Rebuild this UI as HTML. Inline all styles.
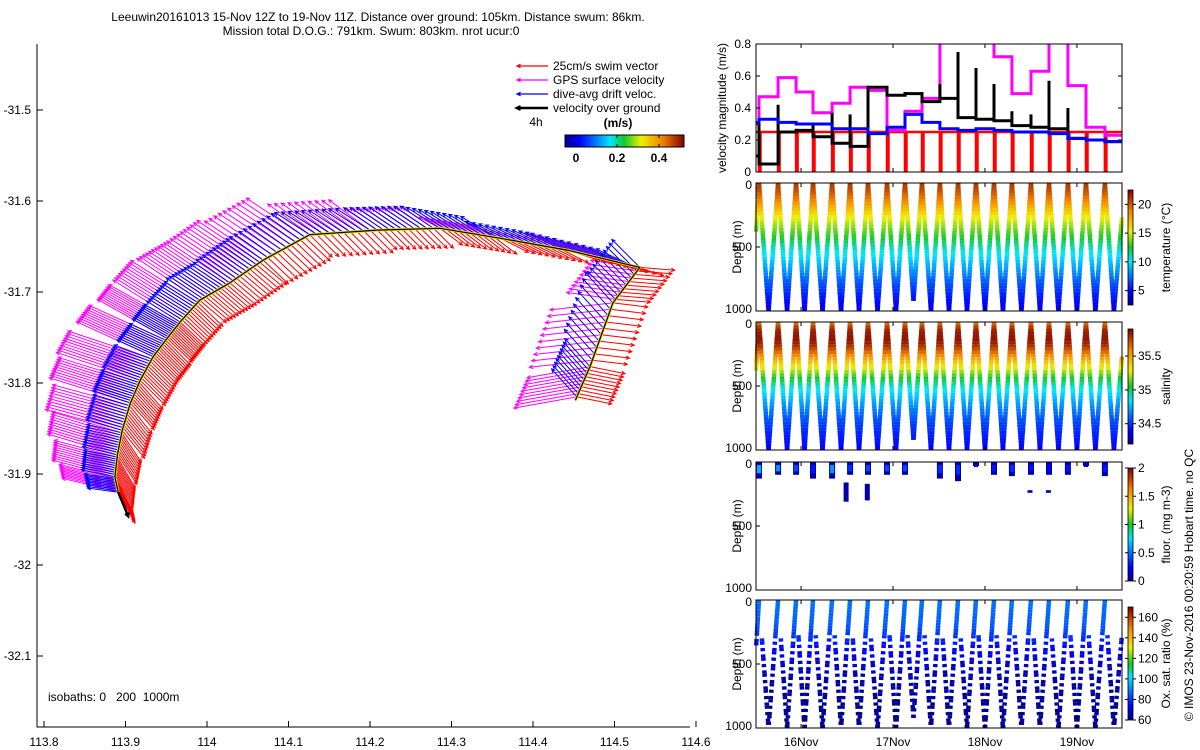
<!DOCTYPE html>
<html><head><meta charset="utf-8"><title>Leeuwin glider</title>
<style>
html,body{margin:0;padding:0;background:#fff;}
svg{display:block;font-family:"Liberation Sans",sans-serif;}
text{font-size:12px;fill:#000;}
</style></head>
<body>
<svg id="chart" width="1200" height="750" viewBox="0 0 1200 750" xmlns="http://www.w3.org/2000/svg">
<defs>
<linearGradient id="jetV" x1="0" y1="1" x2="0" y2="0"></linearGradient>
<linearGradient id="jetH" x1="0" y1="0" x2="1" y2="0"></linearGradient>
<clipPath id="velClip"><rect x="756" y="44" width="366" height="128"/></clipPath>
</defs>
<g>
<text x="378" y="21" text-anchor="middle">Leeuwin20161013 15-Nov 12Z to 19-Nov 11Z. Distance over ground: 105km. Distance swum: 86km.</text>
<text x="371" y="35" text-anchor="middle">Mission total D.O.G.: 791km. Swum: 803km. nrot ucur:0</text>
</g>
<g id="map"></g>
<g id="right"></g>
<text transform="translate(1193,585) rotate(-90)" text-anchor="middle">© IMOS 23-Nov-2016 00:20:59 Hobart time. no QC</text>
</svg>
<script>
// ---------- DATA ----------
const mapLonTicks = [113.8,113.9,114,114.1,114.2,114.3,114.4,114.5,114.6];
const mapLatTicks = [-31.5,-31.6,-31.7,-31.8,-31.9,-32,-32.1];
const trackLon = [113.891,113.887,113.890,113.896,113.906,113.918,113.934,113.951,113.967,113.991,114.028,114.069,114.126,114.209,114.286,114.360,114.442,114.531,114.498,114.470,114.452];
const trackLat = [-31.920,-31.903,-31.879,-31.852,-31.822,-31.797,-31.771,-31.751,-31.733,-31.709,-31.690,-31.665,-31.637,-31.632,-31.630,-31.641,-31.654,-31.673,-31.712,-31.782,-31.819];
const gpsE = [-0.40,-0.45,-0.50,-0.55,-0.58,-0.60,-0.55,-0.50,-0.48,-0.45,-0.45,-0.42,-0.30,-0.22,-0.15,-0.12,-0.30,-0.35,-0.45,-0.45];
const gpsN = [0.10,0.12,0.15,0.15,0.18,0.20,0.25,0.28,0.30,0.30,0.30,0.28,0.22,0.15,0.08,0.06,0.12,0.05,-0.05,-0.08];
const driftE = [-0.22,-0.24,-0.25,-0.26,-0.27,-0.27,-0.26,-0.25,-0.24,-0.24,-0.24,-0.24,-0.25,-0.24,-0.24,-0.25,-0.26,-0.20,-0.20,-0.18];
const driftN = [0.03,0.05,0.06,0.08,0.09,0.10,0.12,0.14,0.15,0.16,0.17,0.17,0.16,0.16,0.15,0.12,0.12,0.20,0.22,0.20];
const swimE = [0.12,0.13,0.14,0.16,0.17,0.18,0.18,0.18,0.18,0.19,0.19,0.18,0.16,0.14,0.16,0.20,0.22,0.25,0.25,0.25];
const swimN = [-0.22,-0.22,-0.21,-0.20,-0.19,-0.18,-0.18,-0.17,-0.17,-0.16,-0.16,-0.17,-0.16,-0.14,-0.12,-0.10,-0.07,-0.02,-0.03,-0.05];

const dayTicks = [16,17,18,19];
const dayLabels = ['16Nov','17Nov','18Nov','19Nov'];
const diveTopTimes = [15.543,15.75,15.946,16.13,16.337,16.533,16.728,16.935,17.13,17.315,17.51,17.707,17.902,18.098,18.293,18.5,18.696,18.902,19.098,19.304];
const diveMaxDepth = [1000,1000,1000,1000,1000,1000,1000,1000,920,1000,1000,1000,1000,1000,1000,1000,1000,1000,1000,1000];
const startDepth = 380, endDepth = 270;
const depthLv = [0,50,100,150,200,250,300,400,500,600,700,800,900,1000];
const tempLv = [21,20.5,19.5,18.5,17,15.8,14.7,13,11,9.5,8,6.5,5.3,4.5];
const salLv = [35.6,35.8,35.85,35.85,35.75,35.6,35.45,35.15,34.9,34.75,34.62,34.52,34.45,34.4];
const oxLv = [87,86.5,86,85,84,81,78,72,67,64,62,61,60.5,60];
const fluorDepth = [130,100,100,130,130,100,100,100,100,0,130,150,5,100,110,100,100,100,5,110];
const fluorPeak = [0.9,0.8,0.5,0.3,0.8,0.4,0.5,0.5,0.5,0,0.4,0.4,0.1,0.3,0.4,0.3,0.2,0.3,0.1,0.3];
const velTicks = [0,0.2,0.4,0.6,0.8];
const gpsSpeed = [0.30,0.47,0.59,0.50,0.37,0.43,0.53,0.51,0.26,0.38,0.46,0.85,0.85,0.85,0.72,0.49,0.63,0.85,0.54,0.28,0.23];
const driftSpeed = [0.31,0.33,0.31,0.30,0.30,0.27,0.27,0.24,0.28,0.36,0.31,0.27,0.26,0.27,0.26,0.25,0.25,0.24,0.21,0.20,0.19];
const ogSpeed = [0.10,0.05,0.25,0.26,0.22,0.18,0.16,0.53,0.48,0.49,0.44,0.46,0.34,0.33,0.32,0.29,0.28,0.27,0.21,0.20,0.19];
const ogSpike = [0.33,0.42,0.27,0.30,0.37,0.36,0.50,0.52,0.50,0.50,0.55,0.75,0.65,0.55,0.38,0.36,0.57,0.40,0.22,0.20];
const swimSpeed = 0.25;

// ---------- HELPERS ----------
const NS='http://www.w3.org/2000/svg';
const svg=document.getElementById('chart');
function mk(tag,attrs,parent){const e=document.createElementNS(NS,tag);for(const k in attrs)e.setAttribute(k,attrs[k]);(parent||svg).appendChild(e);return e;}
function txt(parent,x,y,s,anchor,extra){const t=mk('text',Object.assign({x:x,y:y,'text-anchor':anchor||'start'},extra||{}),parent);t.textContent=s;return t;}
function clamp(v){return Math.max(0,Math.min(1,v));}
const cmPos=[0,0.12,0.38,0.5,0.64,0.82,1];
const cmCol=[[0,0,143],[0,0,255],[0,230,255],[20,200,40],[240,240,0],[240,130,0],[128,0,0]];
function jet(v){v=clamp(v);let i=0;while(i<cmPos.length-2&&v>cmPos[i+1])i++;const f=(v-cmPos[i])/(cmPos[i+1]-cmPos[i]);const a=cmCol[i],b=cmCol[i+1];return 'rgb('+Math.round(a[0]+f*(b[0]-a[0]))+','+Math.round(a[1]+f*(b[1]-a[1]))+','+Math.round(a[2]+f*(b[2]-a[2]))+')';}
['jetV','jetH'].forEach(id=>{const g=document.getElementById(id);cmPos.forEach((p,i)=>{mk('stop',{offset:p,'stop-color':'rgb('+cmCol[i].join(',')+')'},g);});});
function interp(lv,d){for(let i=0;i<depthLv.length-1;i++){if(d<=depthLv[i+1]){const f=(d-depthLv[i])/(depthLv[i+1]-depthLv[i]);return lv[i]+f*(lv[i+1]-lv[i]);}}return lv[lv.length-1];}

// ---------- MAP ----------
const map=document.getElementById('map');
const lonX=lon=>207+(lon-114)*815;
const latY=lat=>110+(-31.5-lat)*910;
const VS=140;
const ax=mk('path',{d:'M37,44 V727 H690',fill:'none',stroke:'#000','stroke-width':1},map);


mapLonTicks.forEach(v=>{const x=lonX(v);mk('line',{x1:x,y1:727,x2:x,y2:721,stroke:'#000'},map);
 const t=txt(map,x,746,String(v),'middle');
 
 });
mapLatTicks.forEach(v=>{const y=latY(v);mk('line',{x1:37,y1:y,x2:43,y2:y,stroke:'#000'},map);
 const t=txt(map,31,y+4,String(v),'end');
 
 });
function arrow(g,x,y,dx,dy,color,w){
 const x2=x+dx,y2=y+dy;const a=Math.atan2(dy,dx);const L=4;
 mk('path',{d:'M'+x.toFixed(1)+','+y.toFixed(1)+'L'+x2.toFixed(1)+','+y2.toFixed(1)+
  'M'+(x2+L*Math.cos(a+Math.PI-0.45)).toFixed(1)+','+(y2+L*Math.sin(a+Math.PI-0.45)).toFixed(1)+'L'+x2.toFixed(1)+','+y2.toFixed(1)+
  'L'+(x2+L*Math.cos(a+Math.PI+0.45)).toFixed(1)+','+(y2+L*Math.sin(a+Math.PI+0.45)).toFixed(1),
  stroke:color,'stroke-width':w||1,fill:'none'},g);}
const gGps=mk('g',{},map);


const gDrift=mk('g',{},map);


const gSwim=mk('g',{},map);


for(let i=0;i<trackLon.length-1;i++){
 for(let k=0;k<10;k++){
  const f=k/10;
  const x=lonX(trackLon[i]+f*(trackLon[i+1]-trackLon[i]));
  const y=latY(trackLat[i]+f*(trackLat[i+1]-trackLat[i]));
  arrow(gGps,x,y,gpsE[i]*VS,-gpsN[i]*VS,'#ff00ff');
  arrow(gDrift,x,y,driftE[i]*VS,-driftN[i]*VS,'#0000ff');
  arrow(gSwim,x,y,swimE[i]*VS,-swimN[i]*VS,'#ff0000');
 }
}
let tp='';trackLon.forEach((v,i)=>{tp+=(i?'L':'M')+lonX(v).toFixed(1)+','+latY(trackLat[i]).toFixed(1);});
const trY=mk('path',{d:tp,fill:'none',stroke:'#e8e000','stroke-width':3},map);


const trB=mk('path',{d:tp,fill:'none',stroke:'#000','stroke-width':1.2},map);


const ogArrow=mk('g',{},map);


arrow(ogArrow,lonX(trackLon[0]),latY(trackLat[0]),10,24,'#000',2.5);
// legend
const leg=mk('g',{},map);


const legC=['#ff0000','#ff00ff','#0000ff','#000'];
const legT=['25cm/s swim vector','GPS surface velocity','dive-avg drift veloc.','velocity over ground'];
legT.forEach((s,i)=>{const y=66+i*14;arrow(leg,548,y,-31,0,legC[i],i===3?2.5:1.2);
 const t=txt(leg,553,y+4,s,'start');
 
 });
txt(leg,536,126,'4h','middle');
txt(leg,618,127,'(m/s)','middle',{'font-weight':'bold'});
const mcb=mk('rect',{x:565,y:135,width:119,height:12,fill:'url(#jetH)',stroke:'#000','stroke-width':1},leg);


[[0,576],[0.2,617],[0.4,659]].forEach(p=>{mk('line',{x1:p[1],y1:135,x2:p[1],y2:138,stroke:'#000'},leg);mk('line',{x1:p[1],y1:147,x2:p[1],y2:144,stroke:'#000'},leg);txt(leg,p[1],162,String(p[0]),'middle',{'font-weight':'bold'});});
const iso=txt(map,48,701,'isobaths: 0   200  1000m','start');


iso.setAttribute('style','white-space:pre');

// ---------- RIGHT PANELS ----------
const R=document.getElementById('right');
const X0=756,X1=1122,T0=15.51,T1=19.49;
const tx=t=>X0+(t-T0)*(X1-X0)/(T1-T0);
const panels=[{name:'velocity-panel',top:44},{name:'temperature-panel',top:183},{name:'salinity-panel',top:322},{name:'fluorescence-panel',top:462},{name:'oxygen-panel',top:600}];
const PH=128;
const vy=v=>172-v*160;
const gV=mk('g',{'clip-path':'url(#velClip)'},R);


const bounds=[T0].concat(diveTopTimes).concat([T1]);
function stepPath(arr){let d='';for(let i=0;i<arr.length;i++){const a=tx(bounds[i]),b=tx(bounds[i+1]);d+=(i?'L':'M')+a.toFixed(1)+','+vy(arr[i]).toFixed(1)+'L'+b.toFixed(1)+','+vy(arr[i]).toFixed(1);}return d;}
let rd='M'+X0+','+vy(swimSpeed);
diveTopTimes.forEach(t=>{const x=tx(t);rd+='L'+x.toFixed(1)+','+vy(swimSpeed)+'L'+x.toFixed(1)+','+vy(0)+'L'+(x+1.5).toFixed(1)+','+vy(0)+'L'+(x+1.5).toFixed(1)+','+vy(swimSpeed);});
rd+='L'+X1+','+vy(swimSpeed);
const pr=mk('path',{d:rd,fill:'none',stroke:'#ff0000','stroke-width':2.5},gV);


const pm=mk('path',{d:stepPath(gpsSpeed),fill:'none',stroke:'#ff00ff','stroke-width':3},gV);


let od=stepPath(ogSpeed);
diveTopTimes.forEach((t,i)=>{const x=tx(t);od+='M'+x.toFixed(1)+','+vy(ogSpeed[i+1]).toFixed(1)+'L'+x.toFixed(1)+','+vy(ogSpike[i]).toFixed(1);});
const pk=mk('path',{d:od,fill:'none',stroke:'#000','stroke-width':3},gV);


const pb=mk('path',{d:stepPath(driftSpeed),fill:'none',stroke:'#0000ff','stroke-width':3},gV);


velTicks.forEach(v=>{const y=vy(v);mk('line',{x1:X0,y1:y,x2:X0+4,y2:y,stroke:'#000'},R);mk('line',{x1:X1,y1:y,x2:X1-4,y2:y,stroke:'#000'},R);txt(R,751,y+4,String(v),'end');});
txt(R,0,0,'velocity magnitude (m/s)','middle',{transform:'translate(726,108) rotate(-90)'});

// dive path
const diveTD=[[T0,startDepth]];
diveTopTimes.forEach((t,i)=>{diveTD.push([t,0]);const next=i<diveTopTimes.length-1?diveTopTimes[i+1]:t+0.196;diveTD.push([(t+next)/2,diveMaxDepth[i]]);});
diveTD.push([T1,endDepth]);
function drawProfile(g,top,lv,cmin,cmax,w,skip){
 for(let j=0;j<diveTD.length-1;j++){
  const [ta,da]=diveTD[j],[tb,db]=diveTD[j+1];
  const n=Math.max(1,Math.round(Math.abs(db-da)/25));
  for(let s=0;s<n;s++){
   const f0=s/n,f1=(s+1)/n;
   const d0=da+(db-da)*f0,d1=da+(db-da)*f1,dm=(d0+d1)/2;
   if(skip&&skip(j,s,dm))continue;
   const c=jet((interp(lv,dm)-cmin)/(cmax-cmin));
   mk('line',{x1:tx(ta+(tb-ta)*f0).toFixed(1),y1:(top+d0/1000*PH).toFixed(1),x2:tx(ta+(tb-ta)*f1).toFixed(1),y2:(top+d1/1000*PH).toFixed(1),stroke:c,'stroke-width':w},g);
  }
 }
}
const gT=mk('g',{},R);


drawProfile(gT,183,tempLv,2.5,22.5,4.5);
const gS=mk('g',{},R);


drawProfile(gS,322,salLv,34.2,35.9,4.5);
const gO=mk('g',{},R);


drawProfile(gO,600,oxLv,60,170,4.5,(j,s,d)=>{if(d<280)return j%2===1;return ((s*7+j*3)%5)<2;});
// fluorescence
const gF=mk('g',{},R);


diveTopTimes.forEach((t,i)=>{if(fluorDepth[i]<=0)return;const x=tx(t);
 mk('rect',{x:(x-3).toFixed(1),y:462,width:6,height:Math.max(4,fluorDepth[i]/1000*PH).toFixed(1),fill:jet(0.03)},gF);
 mk('rect',{x:(x-2).toFixed(1),y:462+3,width:4,height:Math.max(2,fluorDepth[i]/1000*PH*0.5).toFixed(1),fill:jet(fluorPeak[i]/2*0.6+0.05)},gF);
});
[[16.49,160,310],[16.72,170,300],[18.49,220,240],[18.69,220,240]].forEach(p=>{mk('rect',{x:(tx(p[0])-2.5).toFixed(1),y:(462+p[1]/1000*PH).toFixed(1),width:5,height:((p[2]-p[1])/1000*PH).toFixed(1),fill:jet(0.03)},gF);});

// frames, depth ticks, colorbars
const cbInfo=[null,
 {ticks:[20,15,10,5],min:2.5,max:22.5,label:'temperature (°C)',y0:190,y1:305},
 {ticks:[35.5,35,34.5],min:34.2,max:35.9,label:'salinity',y0:329,y1:444},
 {ticks:[2,1.5,1,0.5,0],min:0,max:2,label:'fluor. (mg m-3)',y0:468,y1:581},
 {ticks:[160,140,120,100,80,60],min:60,max:170,label:'Ox. sat. ratio (%)',y0:607,y1:720}];
panels.forEach((p,i)=>{
 const fr=mk('rect',{x:X0,y:p.top,width:X1-X0,height:PH,fill:'none',stroke:'#000','stroke-width':1},R);
 
 
 dayTicks.forEach(d=>{const x=tx(d);mk('line',{x1:x,y1:p.top+PH,x2:x,y2:p.top+PH-4,stroke:'#000'},R);mk('line',{x1:x,y1:p.top,x2:x,y2:p.top+4,stroke:'#000'},R);});
 if(i>0){
  [0,500,1000].forEach(d=>{const y=p.top+d/1000*PH;mk('line',{x1:X0,y1:y,x2:X0+4,y2:y,stroke:'#000'},R);txt(R,752,y+(d===0?6:d===1000?2:4),String(d),'end');});
  txt(R,0,0,'Depth (m)','middle',{transform:'translate(741,'+(p.top+PH/2)+') rotate(-90)'});
  const c=cbInfo[i];
  const cb=mk('rect',{x:1128,y:c.y0,width:5,height:c.y1-c.y0,fill:'url(#jetV)',stroke:'#000','stroke-width':0.8},R);
  
  
  c.ticks.forEach(tk=>{const y=c.y1-(tk-c.min)/(c.max-c.min)*(c.y1-c.y0);mk('line',{x1:1133,y1:y,x2:1136,y2:y,stroke:'#000'},R);mk('line',{x1:1128,y1:y,x2:1125,y2:y,stroke:'#000'},R);txt(R,1138,y+4,String(tk),'start');});
  txt(R,0,0,c.label,'middle',{transform:'translate(1170,'+((c.y0+c.y1)/2)+') rotate(-90)'});
 }
});
dayTicks.forEach((d,i)=>{const t=txt(R,tx(d),746,dayLabels[i],'middle');
 
 });
</script>
</body></html>
